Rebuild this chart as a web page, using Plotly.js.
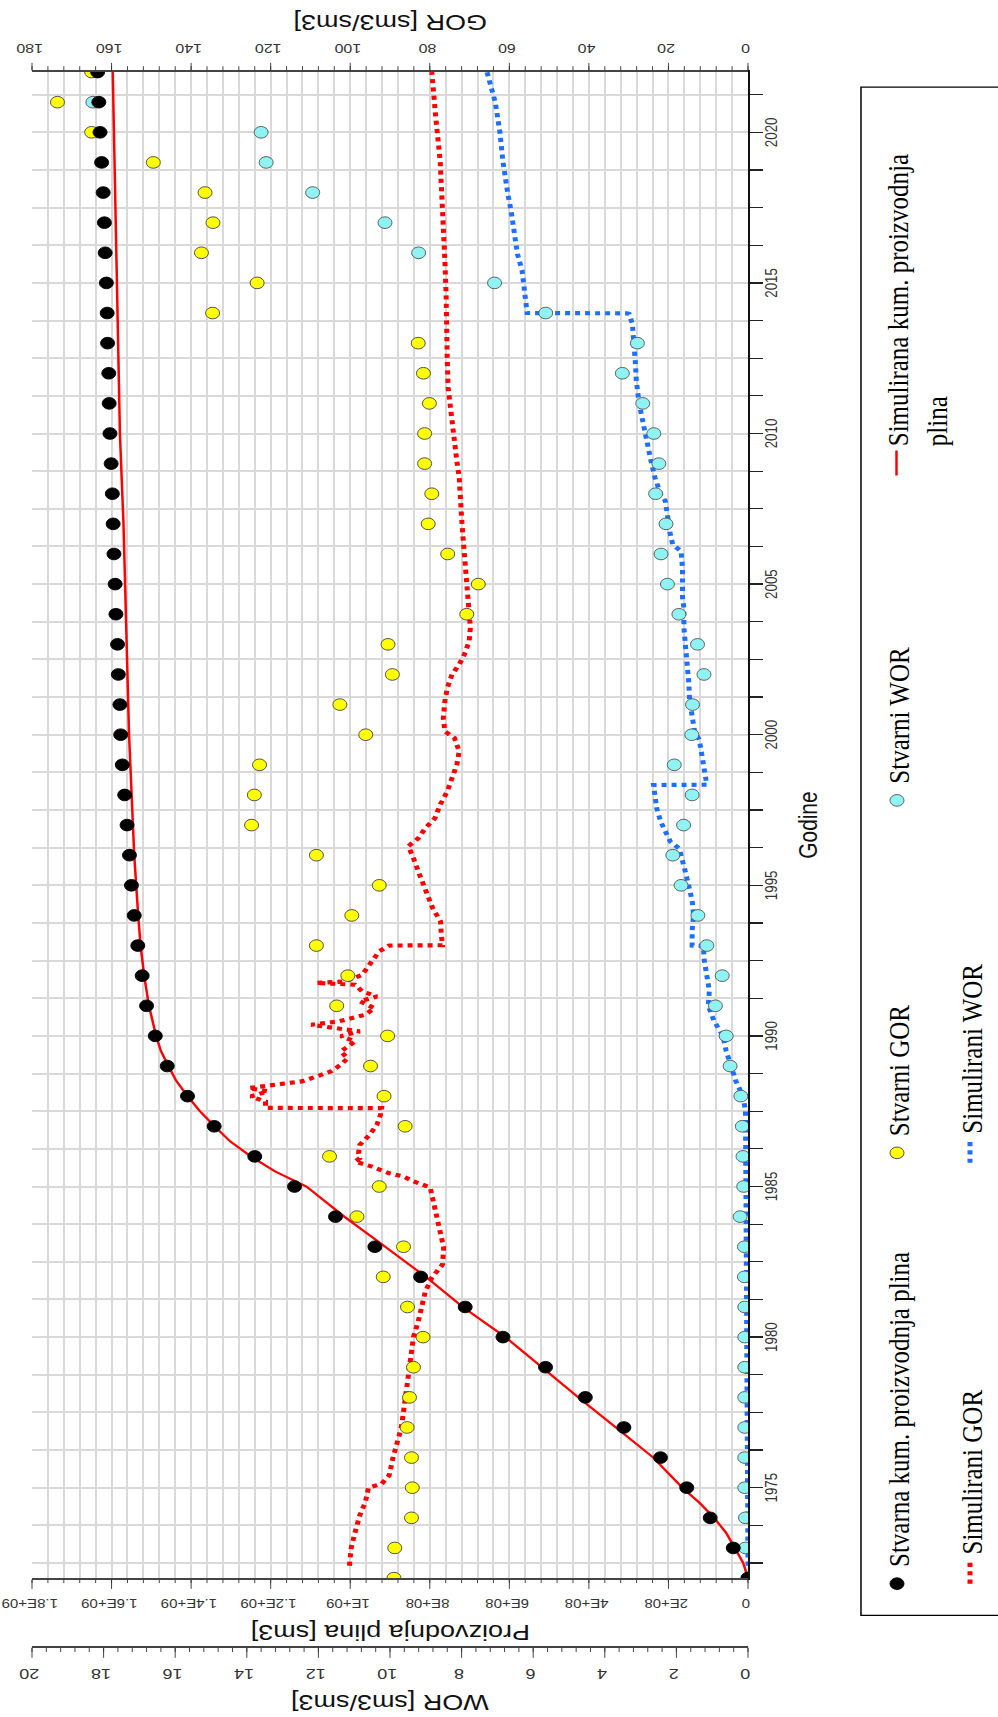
<!DOCTYPE html>
<html>
<head>
<meta charset="utf-8">
<script src="https://cdn.plot.ly/plotly-3.0.1.min.js"></script>
<style>
html, body { margin: 0; padding: 0; width: 998px; height: 1717px; overflow: hidden; background: #fff; }
#chart { position: absolute; left: 0; top: 0; width: 2060px; height: 1010px; transform-origin: 0 0; }
</style>
</head>
<body>
<div id="chart"></div>
<script>
// observed yearly values
var years = [1972,1973,1974,1975,1976,1977,1978,1979,1980,1981,1982,1983,1984,1985,1986,1987,1988,1989,1990,
  1991,1992,1993,1994,1995,1996,1997,1998,1999,2000,2001,2002,2003,2004,2005,2006,2007,2008,2009,2010,
  2011,2012,2013,2014,2015,2016,2017,2018,2019,2020,2021,2022];
var cumActual = [0,3.7e7,9.5e7,1.54e8,2.2e8,3.12e8,4.09e8,5.09e8,6.16e8,7.11e8,8.23e8,9.38e8,1.037e9,1.14e9,1.24e9,1.342e9,
  1.409e9,1.46e9,1.49e9,1.512e9,1.523e9,1.534e9,1.543e9,1.55e9,1.555e9,1.561e9,1.567e9,1.573e9,1.577e9,1.579e9,1.583e9,
  1.585e9,1.589e9,1.591e9,1.594e9,1.596e9,1.598e9,1.601e9,1.604e9,1.606e9,1.607e9,1.61e9,1.611e9,1.613e9,1.616e9,1.618e9,
  1.621e9,1.625e9,1.629e9,1.632e9,1.635e9];
var gorActual = [89.0,88.8,84.6,84.4,84.6,85.7,85.1,84.1,81.7,85.6,91.7,86.6,98.3,92.7,105.2,86.2,91.5,94.9,90.6,
  103.4,100.6,108.5,99.6,92.7,108.5,124.8,124.1,122.8,96.1,102.6,89.4,90.5,70.7,67.8,75.5,80.4,79.5,81.3,81.3,
  80.1,81.6,82.9,134.6,123.4,137.4,134.5,136.5,149.5,165,173.6,165];
var worActual = [0,0.07,0.07,0.09,0.09,0.09,0.09,0.09,0.09,0.09,0.1,0.1,0.22,0.12,0.14,0.16,0.2,0.5,0.61,
  0.91,0.72,1.15,1.4,1.87,2.1,1.8,1.56,2.06,1.57,1.55,1.23,1.41,1.93,2.25,2.43,2.29,2.58,2.49,2.63,
  2.94,3.51,3.09,5.65,7.08,9.2,10.14,12.16,13.46,13.6,18.3,null];

// simulated curves
var simCumYears = [1972,1972.5,1973,1973.5,1974,1974.5,1975,1975.2,1976,1977,1978,1979,1980,1981,1982,1983,1984,1985,
  1985.5,1986,1986.5,1987,1987.5,1988,1988.5,1989,1989.5,1990,1991,1992,1993,1994,1995,1996,2000,2004,2007,2010,2014,2018,2022];
var simCum = [0,1.2e7,3.3e7,5.5e7,8.5e7,1.22e8,1.65e8,1.8e8,2.38e8,3.32e8,4.27e8,5.18e8,6.1e8,7.17e8,8.1e8,9.12e8,1.015e9,1.11e9,
  1.189e9,1.25e9,1.302e9,1.341e9,1.378e9,1.409e9,1.437e9,1.457e9,1.476e9,1.488e9,1.506e9,1.518e9,1.527e9,1.533e9,1.538e9,1.543e9,
  1.556e9,1.563e9,1.570e9,1.579e9,1.585e9,1.591e9,1.597e9];

var simGorYears = [1972.41,1972.97,1973.41,1974.08,1974.52,1975.0,1975.13,1975.41,1975.97,1976.52,1976.97,1977.52,1978.08,
  1978.74,1979.41,1980.0,1980.52,1980.97,1981.52,1981.97,1982.41,1982.97,1983.74,1984.52,1984.97,1985.17,1985.33,1985.44,
  1985.55,1985.66,1985.83,1985.94,1986.11,1986.38,1986.72,1987.05,1987.38,1987.6,1987.61,1987.82,1987.99,1988.16,1988.27,
  1988.38,1988.49,1988.65,1988.82,1989.04,1989.26,1989.48,1989.82,1989.99,1990.15,1990.37,1990.48,1990.7,1990.92,1991.15,
  1991.31,1991.48,1991.7,1991.76,1991.81,1992.03,1992.25,1992.59,1992.81,1993.0,1993.01,1993.36,1993.8,1994.25,1994.69,
  1995.02,1995.47,1995.9,1996.3,1996.56,1996.9,1997.23,1997.67,1998.12,1998.56,1999.0,1999.45,1999.89,2000.11,2000.55,
  2001.11,2001.55,2002.0,2002.33,2002.66,2003.1,2003.55,2004.0,2004.43,2005.0,2005.54,2006.1,2006.65,2007.2,2007.98,
  2008.54,2009.09,2009.65,2010.42,2011.09,2011.53,2012.42,2013.53,2014.63,2015.74,2016.85,2017.96,2019.07,2020.5,2022.0];
var simGor = [100.2,99.8,99.0,97.6,96.2,95.4,92.1,90.2,89.3,88.0,87.2,86.6,86.0,
  85.4,84.6,84.1,82.9,82.0,81.1,79.5,76.8,76.5,77.8,79.3,79.9,84.1,86.6,90.2,
  92.1,94.5,98.8,97.6,97.9,97.6,95.1,93.3,92.4,92.1,121.3,121.3,125.0,120.7,125.5,
  118.3,112.2,108.5,104.9,102.4,100.6,102.4,98.8,102.4,97.6,109.8,103.0,96.3,93.9,97.6,
  93.3,97.0,98.8,108.5,101.2,97.0,95.7,93.9,92.7,90.2,76.8,77.1,77.3,79.3,80.7,
  81.7,82.9,84.1,85.4,82.9,81.1,78.7,77.4,75.6,74.4,73.2,72.6,73.8,76.2,76.6,
  76.2,75.6,74.4,72.6,71.3,70.1,69.8,70.1,70.5,70.7,71.0,71.3,71.7,72.0,72.2,
  72.6,73.2,73.8,74.4,75.0,75.4,75.6,75.6,75.9,76.2,76.5,76.8,77.4,78.5,79.5];

var simWorYears = [1972.41,1985.0,1987.0,1987.5,1988.0,1988.5,1989.0,1989.5,1990.0,1990.5,1991.0,1991.5,1992.0,1992.5,
  1992.99,1993.0,1993.5,1994.0,1994.5,1995.0,1995.5,1996.0,1996.23,1996.45,1996.78,1997.12,1997.56,1998.0,1998.33,1998.34,
  1998.89,1999.33,1999.83,2000.11,2000.55,2001.11,2001.66,2002.22,2002.88,2003.55,2004.21,2004.55,2005.54,2006.1,2006.3,
  2006.65,2007.2,2007.76,2007.98,2008.54,2009.09,2009.65,2010.2,2010.64,2011.09,2011.75,2012.42,2013.08,2013.64,2013.97,
  2013.99,2014.0,2014.63,2015.41,2015.96,2016.63,2017.41,2017.96,2018.51,2019.07,2020.0,2021.0,2022.0];
var simWor = [0,0.03,0.05,0.07,0.14,0.34,0.47,0.61,0.7,0.95,1.11,1.08,1.15,1.22,
  1.25,1.56,1.56,1.52,1.56,1.65,1.76,1.87,1.93,2.17,2.31,2.44,2.55,2.6,2.64,1.15,
  1.22,1.29,1.36,1.49,1.56,1.63,1.65,1.69,1.74,1.79,1.79,1.83,1.83,1.87,2.1,
  2.17,2.24,2.31,2.44,2.6,2.71,2.82,2.92,2.98,3.05,3.12,3.15,3.19,3.23,3.32,
  3.39,6.17,6.24,6.31,6.44,6.51,6.62,6.71,6.78,6.85,6.93,7.06,7.29];

// axis ticks
var yearTicks = [1975,1980,1985,1990,1995,2000,2005,2010,2015,2020];
var prodTicks = [0,2e8,4e8,6e8,8e8,1e9,1.2e9,1.4e9,1.6e9,1.8e9];
var prodTickText = ['0','2E+08','4E+08','6E+08','8E+08','1E+09','1.2E+09','1.4E+09','1.6E+09','1.8E+09'];
var gorTicks = [0,20,40,60,80,100,120,140,160,180];
var worTicks = [0,2,4,6,8,10,12,14,16,18,20];

var W = 2060, H = 1010;
var sans = 'Liberation Sans, Arial, sans-serif';
var grid = '#d9d9d9';

function leg(px, py) {
  return {
    x: px / W, y: 1 - py / H, xref: 'container', yref: 'container',
    xanchor: 'left', yanchor: 'middle', valign: 'top',
    bgcolor: 'rgba(0,0,0,0)', borderwidth: 0,
    font: {family: 'Liberation Serif, Times New Roman, serif', size: 30, color: '#000'}
  };
}

// titles of the value axes, written sideways next to their axes
function sideTitle(text, xPaper) {
  return {text: text, xref: 'paper', yref: 'paper', x: xPaper, y: 0.5, textangle: -90,
          xanchor: 'center', yanchor: 'middle', showarrow: false,
          font: {family: sans, size: 27, color: '#111'}};
}

var traces = [
  {name: 'Simulirani WOR', x: simWorYears, y: simWor, type: 'scatter', mode: 'lines',
   line: {color: '#1f6fff', width: 5, dash: 'dot'}, xaxis: 'x', yaxis: 'y', legend: 'legend6'},
  {name: 'Stvarni WOR', x: years, y: worActual, type: 'scatter', mode: 'markers',
   marker: {size: 14, color: '#8ff3f3', line: {color: '#555', width: 1}}, xaxis: 'x', yaxis: 'y', legend: 'legend3'},
  {name: 'Simulirani GOR', x: simGorYears, y: simGor, type: 'scatter', mode: 'lines',
   line: {color: '#ff0000', width: 5, dash: 'dot'}, xaxis: 'x', yaxis: 'y2', legend: 'legend5'},
  {name: 'Stvarni GOR', x: years, y: gorActual, type: 'scatter', mode: 'markers',
   marker: {size: 14, color: '#ffff00', line: {color: '#444', width: 1}}, xaxis: 'x', yaxis: 'y2', legend: 'legend2'},
  {name: 'Simulirana kum. proizvodnja<br>plina', x: simCumYears, y: simCum, type: 'scatter', mode: 'lines',
   line: {color: '#ff0000', width: 2.5}, xaxis: 'x', yaxis: 'y3', legend: 'legend4'},
  {name: 'Stvarna kum. proizvodnja plina', x: years, y: cumActual, type: 'scatter', mode: 'markers',
   marker: {size: 14, color: '#000', line: {color: '#000', width: 1}}, xaxis: 'x', yaxis: 'y3',
   legend: 'legend', showlegend: true}
];

var layout = {
  width: W, height: H,
  showlegend: true,
  margin: {l: 10, r: 86, t: 32, b: 262, autoexpand: false},
  paper_bgcolor: '#fff', plot_bgcolor: '#fff',
  font: {family: sans, color: '#222'},
  xaxis: {
    domain: [0.0798, 1], range: [1972, 2022], anchor: 'y',
    tickmode: 'array', tickvals: yearTicks, ticks: 'outside', ticklen: 13, tickwidth: 1.5, tickcolor: '#222',
    ticklabelstandoff: -5, tickfont: {size: 16, color: '#333'},
    showline: true, linecolor: '#111', linewidth: 2,
    showgrid: true, gridcolor: grid, gridwidth: 2.4, zeroline: false,
    minor: {tickmode: 'linear', tick0: 1972.5, dtick: 1.25, ticks: 'outside', ticklen: 13, tickcolor: '#222',
            showgrid: true, gridcolor: grid, gridwidth: 2.4},
    title: {text: 'Godine', font: {size: 25, color: '#111'}, standoff: 20}
  },
  // WOR sits on the outer left axis
  yaxis: {
    anchor: 'free', position: 0.0377, side: 'left', range: [0, 20],
    tickmode: 'array', tickvals: worTicks, tickangle: -90, ticks: 'outside', ticklen: 12, tickcolor: '#333',
    ticklabelstandoff: 6, tickfont: {size: 18, color: '#333'},
    showline: true, linecolor: '#444', linewidth: 2, showgrid: false, zeroline: false,
    minor: {tickmode: 'linear', tick0: 0, dtick: 0.4, ticks: 'outside', ticklen: 5, tickcolor: '#333', showgrid: false}
  },
  // GOR on the right, it also carries the grid
  yaxis2: {
    overlaying: 'y', anchor: 'x', side: 'right', range: [0, 180],
    tickmode: 'array', tickvals: gorTicks, tickangle: -90, ticks: 'outside', ticklen: 9, tickcolor: '#333',
    ticklabelstandoff: 4, tickfont: {size: 16, color: '#333'},
    showline: true, linecolor: '#444', linewidth: 2,
    showgrid: true, gridcolor: grid, gridwidth: 2, zeroline: false,
    minor: {tickmode: 'linear', tick0: 0, dtick: 4, ticks: 'outside', ticklen: 5, tickcolor: '#333',
            showgrid: true, gridcolor: grid, gridwidth: 2}
  },
  // cumulative gas production on the inner left axis
  yaxis3: {
    overlaying: 'y', anchor: 'x', side: 'left', range: [0, 1.8e9],
    tickmode: 'array', tickvals: prodTicks, ticktext: prodTickText, tickangle: -90,
    ticks: 'outside', ticklen: 11, tickcolor: '#333',
    ticklabelstandoff: 6, tickfont: {size: 15, color: '#333'},
    showline: true, linecolor: '#444', linewidth: 2, showgrid: false, zeroline: false,
    minor: {tickmode: 'linear', tick0: 0, dtick: 4e7, ticks: 'outside', ticklen: 4, tickcolor: '#333', showgrid: false}
  },
  annotations: [
    sideTitle('GOR [sm3/sm3]', 1.030),
    sideTitle('Proizvodnja plina [sm3]', 0.0463),
    sideTitle('WOR [sm3/sm3]', 0.0040)
  ],
  legend: leg(140, 897),
  legend2: leg(657, 897),
  legend3: leg(1080, 897),
  legend4: leg(1485, 916),
  legend5: leg(155, 970),
  legend6: leg(660, 970),
  shapes: [{
    type: 'rect', xref: 'paper', yref: 'paper', layer: 'above',
    x0: 0.057, x1: 0.9908, y0: -0.1578, y1: -0.40,
    line: {color: '#000', width: 1.5}, fillcolor: 'rgba(0,0,0,0)'
  }]
};

// lay the chart out unturned, then turn it a quarter to the left like the scanned figure
var el = document.getElementById('chart');
Plotly.newPlot(el, traces, layout, {displayModeBar: false, staticPlot: true}).then(function () {
  el.style.transform = 'translate(0px, 1717px) rotate(-90deg) scale(0.8333, 1)';
});
</script>
</body>
</html>
